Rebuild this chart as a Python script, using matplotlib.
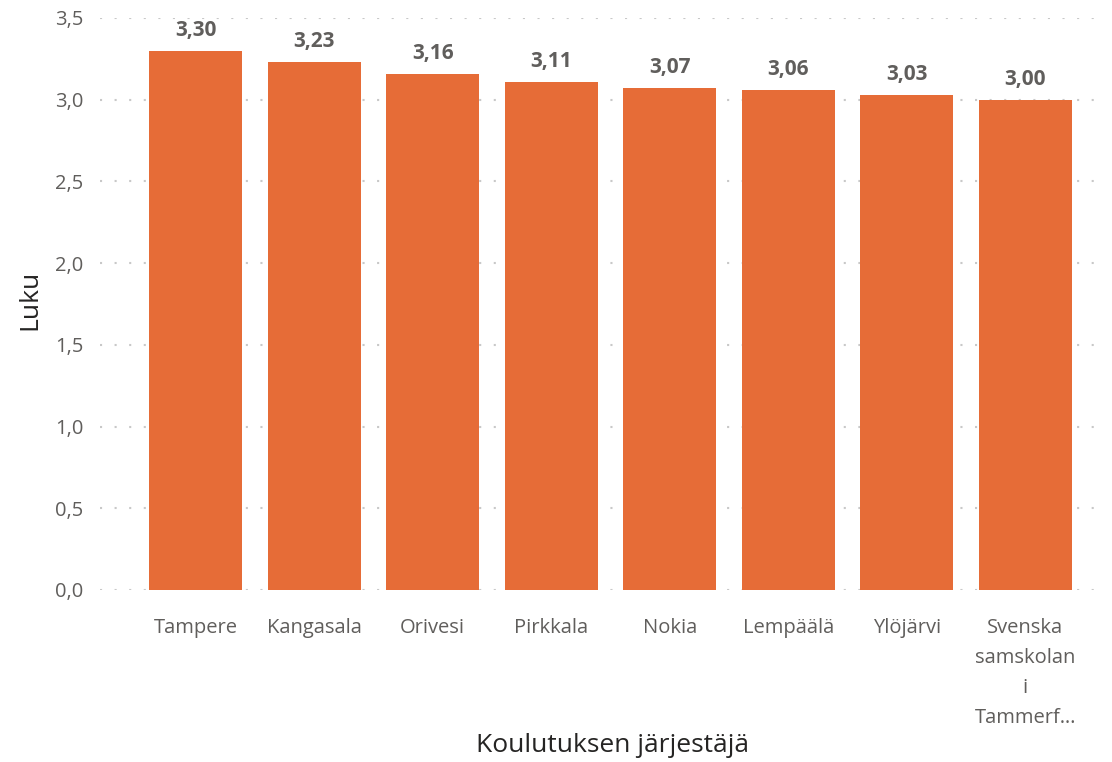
import matplotlib
matplotlib.use("Agg")
import matplotlib.pyplot as plt
import numpy as np

categories = ["Tampere", "Kangasala", "Orivesi", "Pirkkala", "Nokia",
              "Lempäälä", "Ylöjärvi", "Svenska\nsamskolan\ni\nTammerf…"]
values = [3.30, 3.23, 3.16, 3.11, 3.07, 3.06, 3.03, 3.00]
yticks = [0.0, 0.5, 1.0, 1.5, 2.0, 2.5, 3.0, 3.5]

plt.rcParams['font.family'] = ['Open Sans', 'DejaVu Sans']
grey = '#605E5C'

fig = plt.figure(figsize=(11.12, 7.62), dpi=100)
ax = fig.add_axes([100/1112, 1 - 590/762, 1000/1112, 572/762])

x = np.arange(len(categories))
bars = ax.bar(x, values, width=0.785, color='#E66C37', zorder=3)

for xi, v in zip(x, values):
    ax.text(xi, v + 0.06, f"{v:.2f}".replace('.', ','), ha='center', va='bottom',
            fontsize=15, fontweight='bold', color=grey)

ax.set_ylim(0, 3.5)
ax.set_xlim(-0.806, 7.63)
ax.set_yticks(yticks)
ax.set_yticklabels([f"{t:.1f}".replace('.', ',') for t in yticks])
ax.set_xticks(x)
ax.set_xticklabels(categories, linespacing=1.68)
ax.tick_params(axis='both', length=0, labelsize=14.5, labelcolor=grey)
ax.tick_params(axis='x', pad=20)
ax.tick_params(axis='y', pad=12)

ax.grid(axis='y', color='#C8C8C8', linestyle=(0, (1, 6)), linewidth=1.5, zorder=0)
for s in ax.spines.values():
    s.set_visible(False)

fig.text(613/1112, 1 - 745/762, "Koulutuksen järjestäjä", fontsize=19,
         color='#252423', ha='center', va='center')
fig.text(30/1112, 1 - 300/762, "Luku", fontsize=19, color='#252423',
         ha='center', va='center', rotation=90)

fig.savefig("out.png", dpi=100)
